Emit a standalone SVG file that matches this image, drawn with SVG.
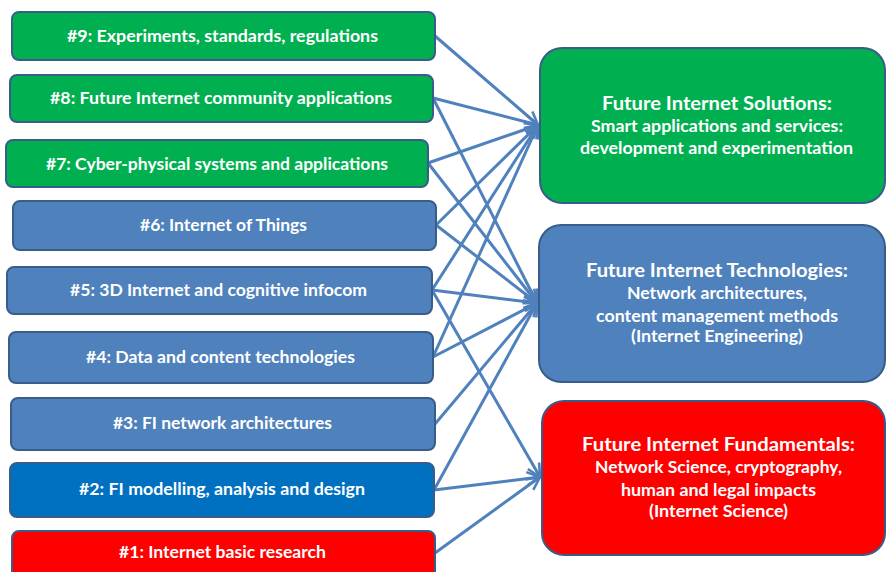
<svg xmlns="http://www.w3.org/2000/svg" width="887" height="572" viewBox="0 0 887 572">
<defs>
<marker id="arr" viewBox="0 0 16 16" refX="14" refY="8" markerWidth="16" markerHeight="16" markerUnits="userSpaceOnUse" orient="auto">
<path d="M1,1.5 L14,8 L1,14.5" fill="none" stroke="#4F81BD" stroke-width="2.6" stroke-linejoin="miter"/>
</marker>
</defs>
<style>
.box{stroke:#385D8A;stroke-width:2}
.g{fill:#00B050}.b{fill:#4F81BD}.d{fill:#0070C0}.r{fill:#FF0000}
text{font-family:Lato,"Liberation Sans",sans-serif;font-weight:bold;fill:#FFFFFF;text-anchor:middle}
.s{font-size:17px}
.t{font-size:19px}
.l{font-size:17px}
.c{stroke:#4F81BD;stroke-width:3;fill:none;marker-end:url(#arr)}
</style>
<rect width="887" height="572" fill="#FFFFFF"/>
<g id="connectors">
<line class="c" x1="435" y1="36" x2="538" y2="125"/>
<line class="c" x1="433" y1="98" x2="538" y2="125"/>
<line class="c" x1="428" y1="163" x2="538" y2="125"/>
<line class="c" x1="436" y1="225" x2="538" y2="125"/>
<line class="c" x1="432" y1="290" x2="538" y2="125"/>
<line class="c" x1="433" y1="357" x2="538" y2="125"/>
<line class="c" x1="433" y1="98" x2="537" y2="303"/>
<line class="c" x1="428" y1="163" x2="537" y2="303"/>
<line class="c" x1="436" y1="225" x2="537" y2="303"/>
<line class="c" x1="432" y1="290" x2="537" y2="303"/>
<line class="c" x1="433" y1="357" x2="537" y2="303"/>
<line class="c" x1="435" y1="424" x2="537" y2="303"/>
<line class="c" x1="434" y1="490" x2="537" y2="303"/>
<line class="c" x1="432" y1="290" x2="540" y2="477"/>
<line class="c" x1="434" y1="490" x2="540" y2="477"/>
<line class="c" x1="435" y1="553" x2="540" y2="477"/>
</g>
<g id="n9"><rect class="box g" x="12" y="12" width="423" height="48" rx="7"/><text class="s" x="222.5" y="42" textLength="311" lengthAdjust="spacingAndGlyphs">#9: Experiments, standards, regulations</text></g>
<g id="n8"><rect class="box g" x="10" y="75" width="423" height="47" rx="7"/><text class="s" x="221" y="104" textLength="342" lengthAdjust="spacingAndGlyphs">#8: Future Internet community applications</text></g>
<g id="n7"><rect class="box g" x="6" y="140" width="422" height="47" rx="7"/><text class="s" x="217" y="170" textLength="342" lengthAdjust="spacingAndGlyphs">#7: Cyber-physical systems and applications</text></g>
<g id="n6"><rect class="box b" x="13" y="201" width="423" height="49" rx="7"/><text class="s" x="223.5" y="231" textLength="167" lengthAdjust="spacingAndGlyphs">#6: Internet of Things</text></g>
<g id="n5"><rect class="box b" x="7" y="267" width="425" height="47" rx="7"/><text class="s" x="218.5" y="296" textLength="297" lengthAdjust="spacingAndGlyphs">#5: 3D Internet and cognitive infocom</text></g>
<g id="n4"><rect class="box b" x="9" y="332" width="424" height="51" rx="7"/><text class="s" x="220.5" y="363" textLength="269" lengthAdjust="spacingAndGlyphs">#4: Data and content technologies</text></g>
<g id="n3"><rect class="box b" x="11" y="398" width="424" height="52" rx="7"/><text class="s" x="222.5" y="429" textLength="219" lengthAdjust="spacingAndGlyphs">#3: FI network architectures</text></g>
<g id="n2"><rect class="box d" x="10" y="463" width="424" height="54" rx="7"/><text class="s" x="222" y="495" textLength="286" lengthAdjust="spacingAndGlyphs">#2: FI modelling, analysis and design</text></g>
<g id="n1"><rect class="box r" x="12" y="531" width="423" height="52" rx="7"/><text class="s" x="222.5" y="558" textLength="207" lengthAdjust="spacingAndGlyphs">#1: Internet basic research</text></g>
<g id="solutions"><rect class="box g" x="540" y="48" width="345" height="155" rx="22"/>
<text class="t" x="717" y="110" textLength="230" lengthAdjust="spacingAndGlyphs">Future Internet Solutions:</text>
<text class="l" x="717" y="132" textLength="252" lengthAdjust="spacingAndGlyphs">Smart applications and services:</text>
<text class="l" x="716.5" y="154" textLength="273" lengthAdjust="spacingAndGlyphs">development and experimentation</text></g>
<g id="technologies"><rect class="box b" x="539" y="225" width="346" height="157" rx="22"/>
<text class="t" x="717" y="277" textLength="262" lengthAdjust="spacingAndGlyphs">Future Internet Technologies:</text>
<text class="l" x="717" y="299" textLength="180" lengthAdjust="spacingAndGlyphs">Network architectures,</text>
<text class="l" x="717" y="322" textLength="242" lengthAdjust="spacingAndGlyphs">content management methods</text>
<text class="l" x="717" y="342" textLength="172" lengthAdjust="spacingAndGlyphs">(Internet Engineering)</text></g>
<g id="fundamentals"><rect class="box r" x="542" y="401" width="343" height="154" rx="22"/>
<text class="t" x="718.5" y="451" textLength="273" lengthAdjust="spacingAndGlyphs">Future Internet Fundamentals:</text>
<text class="l" x="718.5" y="473" textLength="247" lengthAdjust="spacingAndGlyphs">Network Science, cryptography,</text>
<text class="l" x="718.5" y="496" textLength="195" lengthAdjust="spacingAndGlyphs">human and legal impacts</text>
<text class="l" x="718.5" y="517" textLength="139" lengthAdjust="spacingAndGlyphs">(Internet Science)</text></g>
</svg>
